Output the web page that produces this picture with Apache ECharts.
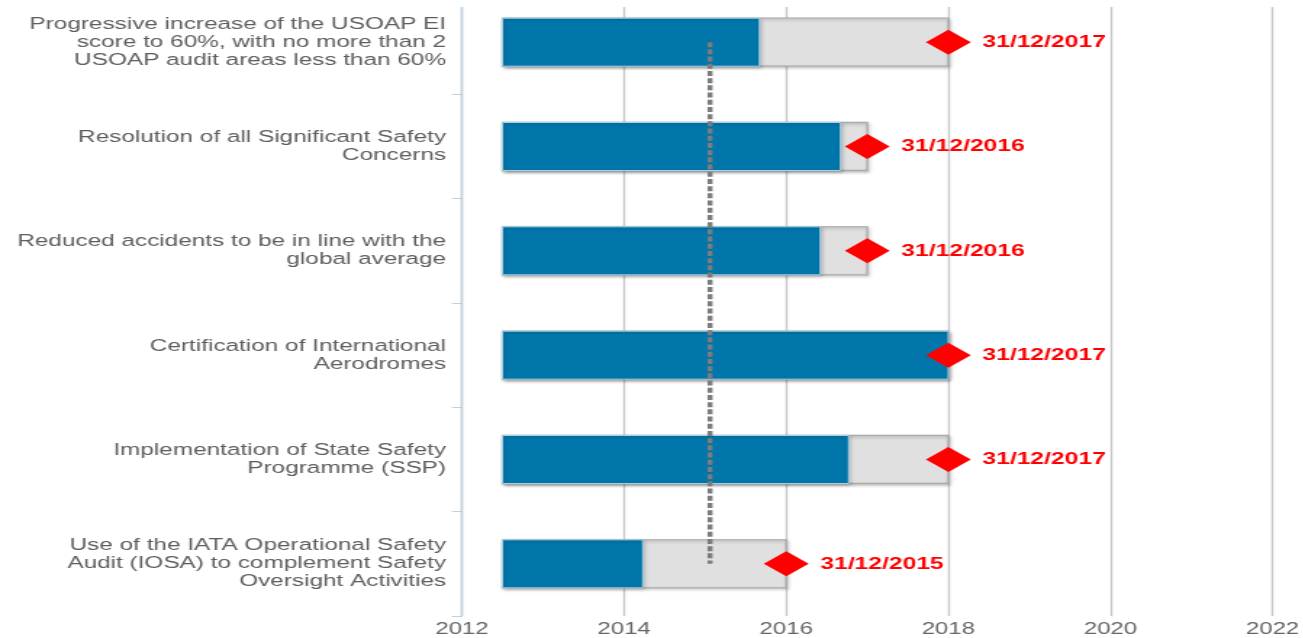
<!DOCTYPE html>
<html>
<head>
<meta charset="utf-8">
<script src="https://cdn.jsdelivr.net/npm/echarts@6/dist/echarts.min.js"></script>
<style>
  html, body { margin: 0; padding: 0; background: #ffffff; overflow: hidden; width: 1303px; height: 638px; }
  #chart { position: absolute; left: 0; top: 0; width: 898.6px; height: 648px;
           transform: translateY(-10px) scaleX(1.45); transform-origin: 0 0; }
</style>
</head>
<body>
<div id="chart"></div>
<script>
// ---- data ----
const categories = [
  'Progressive increase of the USOAP EI\nscore to 60%, with no more than 2\nUSOAP audit areas less than 60%',
  'Resolution of all Significant Safety\nConcerns',
  'Reduced accidents to be in line with the\nglobal average',
  'Certification of International\nAerodromes',
  'Implementation of State Safety\nProgramme (SSP)',
  'Use of the IATA Operational Safety\nAudit (IOSA) to complement Safety\nOversight Activities'
];
const startYear   = [2012.5, 2012.5, 2012.5, 2012.5, 2012.5, 2012.5];
const progressEnd = [2015.67, 2016.67, 2016.42, 2018.0, 2016.77, 2014.23];
const targetEnd   = [2018.0, 2017.0, 2017.0, 2018.0, 2018.0, 2016.0];
const targetLabels = ['31/12/2017', '31/12/2016', '31/12/2016', '31/12/2017', '31/12/2017', '31/12/2015'];
const todayMarker = 2015.06;
const xMin = 2012, xMax = 2022, xStep = 2;

// ---- build ----
const grayData = categories.map((c, i) => [startYear[i], targetEnd[i], i]);
const blueData = categories.map((c, i) => [startYear[i], progressEnd[i], i]);
const diamondData = categories.map((c, i) => [targetEnd[i], i]);
const markerData = [[todayMarker, 0], [todayMarker, categories.length - 1]];

function barRenderer(fill, stroke, lw) {
  return function (params, api) {
    const cat = api.value(2);
    const s = api.coord([api.value(0), cat]);
    const e = api.coord([api.value(1), cat]);
    const h = api.size([0, 1])[1] * 0.46;
    return {
      type: 'rect',
      shape: { x: s[0], y: s[1] - h / 2, width: e[0] - s[0], height: h },
      style: {
        fill: fill, stroke: stroke, lineWidth: lw,
        shadowBlur: 3, shadowOffsetX: 1, shadowOffsetY: 1.5,
        shadowColor: 'rgba(0,0,0,0.22)'
      }
    };
  };
}

const chart = echarts.init(document.getElementById('chart'));
chart.setOption({
  animation: false,
  backgroundColor: '#ffffff',
  grid: { left: 318.6, right: 18.5, top: 0, bottom: 18, containLabel: false },
  xAxis: {
    type: 'value', min: xMin, max: xMax, interval: xStep,
    axisLine: { show: false }, axisTick: { show: false },
    splitLine: { show: true, lineStyle: { color: '#c8c8c8', width: 1.4 } },
    axisLabel: { color: '#666666', fontSize: 16.5, fontFamily: 'Liberation Sans', margin: 5,
                 formatter: v => String(v) }
  },
  yAxis: {
    type: 'category', data: categories, inverse: true,
    axisLine: { show: true, lineStyle: { color: '#c0d0e0', width: 1.4 } },
    axisTick: { show: true, length: 7, lineStyle: { color: '#c0d0e0', width: 1 } },
    splitLine: { show: false },
    axisLabel: {
      color: '#5e5e5e', fontSize: 16.8, lineHeight: 18, fontFamily: 'Liberation Sans',
      align: 'right', margin: 11
    }
  },
  graphic: [{
    type: 'rect', left: 0, top: 0, z: 100,
    shape: { width: 898.6, height: 17 }, style: { fill: '#ffffff' }
  }],
  series: [
    {
      type: 'custom', name: 'Target', z: 2,
      renderItem: barRenderer('#e0e0e0', '#ababab', 1.3),
      encode: { x: [0, 1], y: 2 },
      data: grayData
    },
    {
      type: 'custom', name: 'Progress', z: 3,
      renderItem: barRenderer('#0076aa', '#a8d0e8', 1),
      encode: { x: [0, 1], y: 2 },
      data: blueData
    },
    {
      type: 'line', name: 'Today', z: 4,
      data: markerData, symbol: 'none',
      lineStyle: { color: '#7c7c7c', width: 3.5, type: [5, 2.2] }
    },
    {
      type: 'scatter', name: 'Deadline', z: 5,
      symbol: 'diamond', symbolSize: [31, 25],
      itemStyle: { color: '#ff0000', opacity: 1 },
      label: {
        show: true, position: 'right', distance: 8,
        formatter: p => targetLabels[p.dataIndex],
        color: '#ff0000', fontWeight: 'bold', fontSize: 17, fontFamily: 'Liberation Sans'
      },
      data: diamondData
    }
  ]
});
</script>
</body>
</html>
